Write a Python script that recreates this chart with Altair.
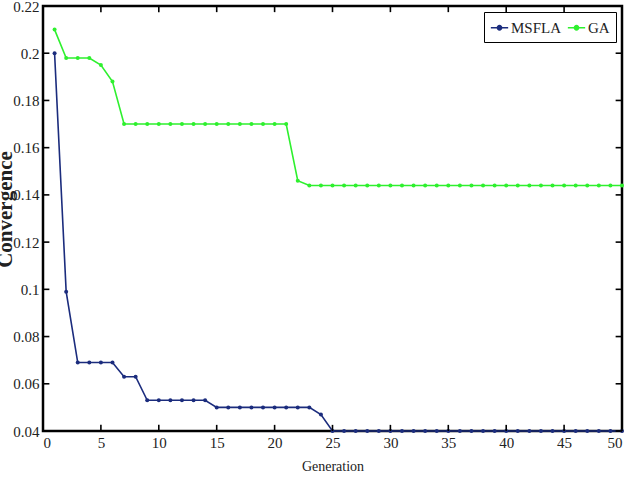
import altair as alt
import pandas as pd

generation = list(range(1, 51))
msfla = [0.200, 0.099, 0.069, 0.069, 0.069, 0.069, 0.063, 0.063, 0.053, 0.053,
         0.053, 0.053, 0.053, 0.053, 0.050, 0.050, 0.050, 0.050, 0.050, 0.050,
         0.050, 0.050, 0.050, 0.047] + [0.040] * 26
ga = [0.210, 0.198, 0.198, 0.198, 0.195, 0.188] + [0.170] * 15 + [0.146] + [0.144] * 28
series_names = ["MSFLA", "GA"]
series_colors = ["#1b2c7d", "#2ef02e"]
x_ticks = list(range(0, 51, 5))
y_ticks = [0.04, 0.06, 0.08, 0.10, 0.12, 0.14, 0.16, 0.18, 0.20, 0.22]

df = pd.DataFrame({
    "Generation": generation * 2,
    "Convergence": msfla + ga,
    "Series": ["MSFLA"] * 50 + ["GA"] * 50,
})
xt = pd.DataFrame({"xt": x_ticks})
yt = pd.DataFrame({"yt": y_ticks})

W, H = 579, 425
FONT = "Liberation Serif"
INK = "black"
XMIN, XMAX, YMIN, YMAX = 0, 50, 0.04, 0.22
XLEN = 0.55      # inward tick length in x units
YLEN = 0.0026    # inward tick length in y units

xscale = alt.Scale(domain=[XMIN, XMAX], nice=False, zero=False)
yscale = alt.Scale(domain=[YMIN, YMAX], nice=False, zero=False)
cscale = alt.Scale(domain=series_names, range=series_colors)

x_enc = alt.X("Generation:Q", scale=xscale,
              axis=alt.Axis(values=x_ticks, ticks=False, domain=False, grid=False,
                            labelFont=FONT, labelFontSize=15, labelColor="#222",
                            labelPadding=4, title="Generation", titleFont=FONT,
                            titleFontSize=14, titleFontWeight="normal",
                            titleColor="#222", titlePadding=9))
y_enc = alt.Y("Convergence:Q", scale=yscale,
              axis=alt.Axis(values=y_ticks, ticks=False, domain=False, grid=False,
                            labelFont=FONT, labelFontSize=15, labelColor="#222",
                            labelPadding=4, labelExpr="datum.value == 0.1 ? '0.1' : datum.value == 0.2 ? '0.2' : format(datum.value, '.2f')",
                            title="Convergence", titleFont=FONT, titleFontSize=21,
                            titleFontWeight="bold", titleColor="#222",
                            titleX=-28, titleY=203))

lines = alt.Chart(df).mark_line(strokeWidth=1.6).encode(
    x=x_enc, y=y_enc,
    color=alt.Color("Series:N", scale=cscale, sort=series_names,
                    legend=alt.Legend(title=None, orient="none", legendX=441, legendY=6,
                                      direction="horizontal", labelFont=FONT,
                                      labelFontSize=15, labelColor="#222",
                                      symbolType="M-1,0L1,0M-0.25,0A0.25,0.25,0,1,1,0.25,0A0.25,0.25,0,1,1,-0.25,0",
                                      symbolSize=300, symbolStrokeWidth=1.5,
                                      columnPadding=2, labelOffset=2,
                                      strokeColor="black", padding=6,
                                      fillColor="white")),
)
points = alt.Chart(df).mark_circle(size=16, opacity=1).encode(
    x="Generation:Q", y="Convergence:Q",
    color=alt.Color("Series:N", scale=cscale, legend=None),
)

tb = alt.Chart(xt).mark_rule(color=INK, strokeWidth=1.6).encode(
    x=alt.X("xt:Q", scale=xscale), y=alt.datum(YMIN), y2=alt.datum(YMIN + YLEN))
tt = alt.Chart(xt).mark_rule(color=INK, strokeWidth=1.6).encode(
    x=alt.X("xt:Q", scale=xscale), y=alt.datum(YMAX), y2=alt.datum(YMAX - YLEN))
tl = alt.Chart(yt).mark_rule(color=INK, strokeWidth=1.6).encode(
    y=alt.Y("yt:Q", scale=yscale), x=alt.datum(XMIN), x2=alt.datum(XMIN + XLEN))
tr = alt.Chart(yt).mark_rule(color=INK, strokeWidth=1.6).encode(
    y=alt.Y("yt:Q", scale=yscale), x=alt.datum(XMAX), x2=alt.datum(XMAX - XLEN))

chart = alt.layer(lines, points, tb, tt, tl, tr).properties(
    width=W, height=H,
    background="white",
    autosize=alt.AutoSizeParams(type="none"),
    padding={"left": 43, "top": 6, "right": 15, "bottom": 46},
).configure_view(stroke=INK, strokeWidth=2.5, fill="white")

chart.save("out.html", embed_options={"renderer": "svg", "actions": False})
